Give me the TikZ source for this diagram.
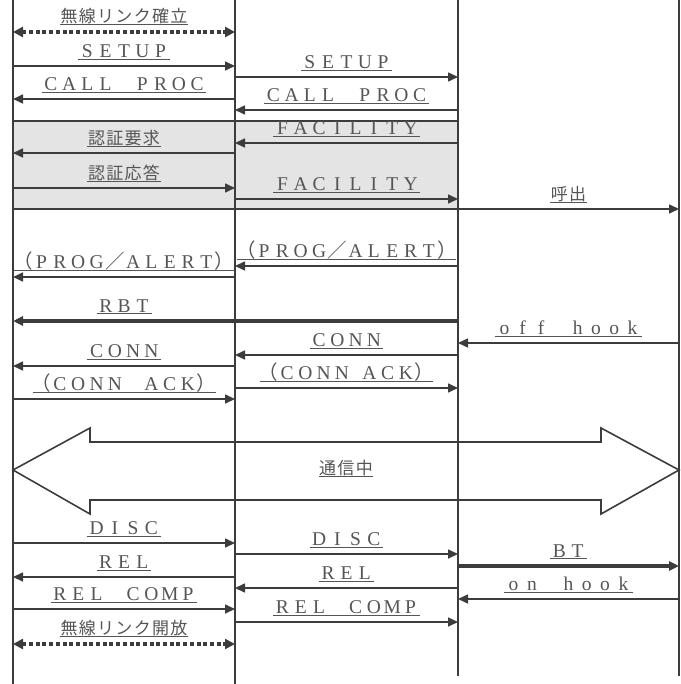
\documentclass[tikz,border=0pt]{standalone}
\usepackage{fontspec}
\setmainfont{Liberation Serif}
\newfontfamily\jp{Noto Sans CJK JP}
\usetikzlibrary{arrows.meta}
\definecolor{linegray}{HTML}{3C3C3C}
\definecolor{textgray}{HTML}{555555}
\definecolor{boxgray}{HTML}{E4E4E4}
% full-width letters: one fixed cell per character
\newlength\fwpitch
\setlength\fwpitch{18.3pt}
\def\fwend{\fwend}
\def\fwloop#1{\ifx\fwend#1\else\makebox[\fwpitch]{#1}\expandafter\fwloop\fi}
\newcommand\fw[1]{\fwloop#1\fwend}
\newcommand\fop{{\jp （}}
\newcommand\fcl{{\jp ）}}
\newcommand\fsl{{\jp ／}}
% underline close under the text
\newcommand\ulbox[2]{\setbox0\hbox{#2}\rlap{\rule[-#1]{\wd0}{0.8pt}}\box0}
\newcommand\elbl[1]{{\fontsize{19.5}{22}\selectfont\ulbox{1.8pt}{\fw{#1}}}}
\newcommand\jlbl[1]{{\jp\fontsize{17}{20}\selectfont\ulbox{2.6pt}{\fw{#1}}}}
\begin{document}
\begin{tikzpicture}[x=1pt, y=-1pt,
  life/.style={linegray, line width=1.8pt},
  msg/.style={linegray, line width=1.6pt, -{Triangle[length=10pt,width=9pt]}},
  boldmsg/.style={msg, line width=3.2pt},
  link/.style={linegray, line width=3.6pt, dash pattern=on 4pt off 2.7pt,
    {Triangle[length=10pt,width=10pt]}-{Triangle[length=10pt,width=10pt]}},
  lbl/.style={midway, above=5.5pt, inner sep=0pt, text=textgray}]
\useasboundingbox (0,0) rectangle (680,684);
% lifelines
\coordinate (ms) at (13,0);
\coordinate (bs) at (235,0);
\coordinate (sw) at (458,0);
\coordinate (tel) at (679,0);
% authentication block
\draw[linegray, line width=1.6pt, fill=boxgray] (ms|-0,121) rectangle (sw|-0,209);
\draw[life] (ms) -- (ms|-0,684);
\draw[life] (bs) -- (bs|-0,684);
\draw[life] (sw) -- (sw|-0,676);
\draw[life] (tel) -- (tel|-0,676);
% radio link
\draw[link] (ms|-0,32) -- (bs|-0,32) node[lbl]{\jlbl{無線リンク確立}};
\draw[link] (ms|-0,644) -- (bs|-0,644) node[lbl]{\jlbl{無線リンク開放}};
% messages
\foreach \a/\b/\y/\txt in {
  ms/bs/66/{\elbl{SETUP}}, bs/ms/99/{\elbl{CALL~PROC}},
  bs/sw/77/{\elbl{SETUP}}, sw/bs/110/{\elbl{CALL~PROC}},
  sw/bs/143/{\elbl{FACILITY}}, bs/ms/153/{\jlbl{認証要求}},
  ms/bs/188/{\jlbl{認証応答}}, bs/sw/199/{\elbl{FACILITY}},
  sw/tel/209/{\jlbl{呼出}},
  sw/bs/266/{\elbl{\fop PROG\fsl ALERT\fcl}},
  bs/ms/277/{\elbl{\fop PROG\fsl ALERT\fcl}},
  tel/sw/343/{\elbl{off~hook}},
  sw/bs/355/{\elbl{CONN}}, bs/ms/366/{\elbl{CONN}},
  ms/bs/399/{\elbl{\fop CONN~ACK\fcl}},
  ms/bs/543/{\elbl{DISC}}, bs/sw/554/{\elbl{DISC}},
  bs/ms/577/{\elbl{REL}}, sw/bs/588/{\elbl{REL}},
  tel/sw/599/{\elbl{on~hook}},
  ms/bs/609/{\elbl{REL~COMP}}, bs/sw/622/{\elbl{REL~COMP}}}
  \draw[msg] (\a|-0,\y) -- (\b|-0,\y) node[lbl]{\txt};
\draw[msg] (bs|-0,388) -- (sw|-0,388) node[lbl]{{\fontsize{19.5}{22}\selectfont
  \ulbox{1.8pt}{\fw{\fop CONN}\hspace{.5\fwpitch}\fw{ACK\fcl}}}};
\draw[boldmsg] (sw|-0,321) -- (ms|-0,321) node[lbl, pos=.75]{\elbl{RBT}};
\draw[boldmsg] (sw|-0,566) -- (tel|-0,566) node[lbl]{\elbl{BT}};
% talking
\draw[linegray, line width=1.6pt] (ms|-0,470) -- (90,428) -- (90,442) -- (601,442)
  -- (601,428) -- (tel|-0,470) -- (601,514) -- (601,500) -- (90,500) -- (90,514) -- cycle;
\node[anchor=south, inner sep=0pt, text=textgray] (talk) at (346,477) {\jlbl{通信中}};
\end{tikzpicture}
\end{document}
